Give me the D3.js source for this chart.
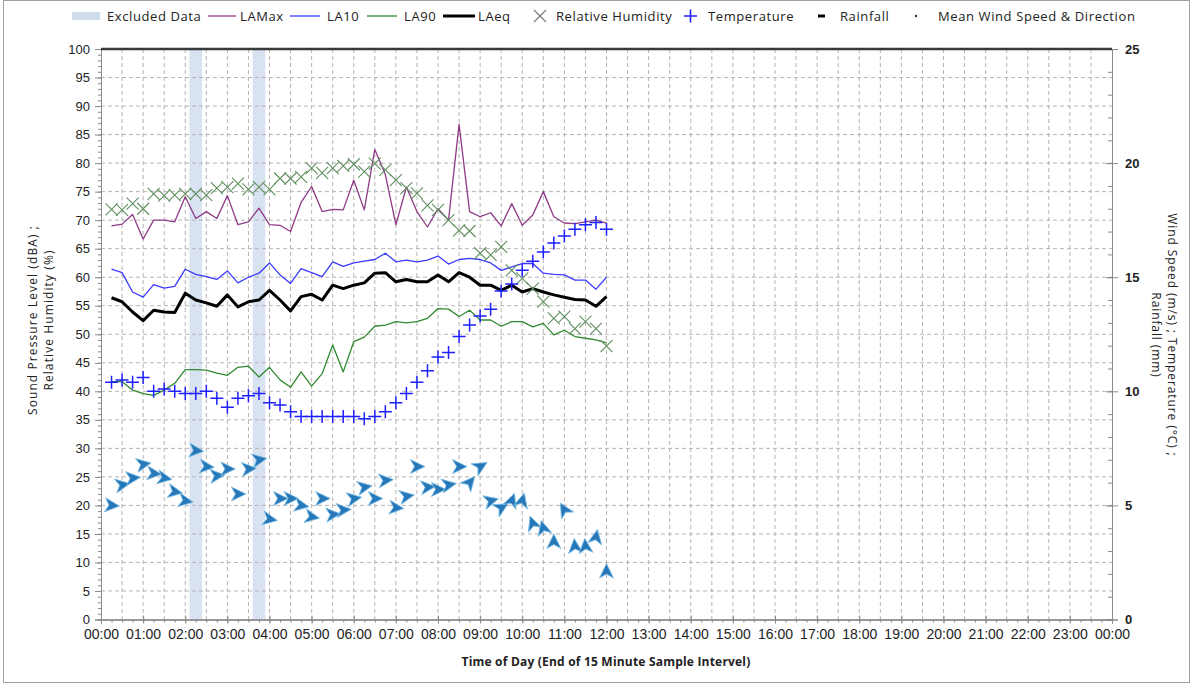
<!DOCTYPE html>
<html>
<head>
<meta charset="utf-8">
<script src="https://cdn.jsdelivr.net/npm/d3@7"></script>
<style>
  body { margin: 0; background: #fff; }
  svg { display: block; font-family: "Liberation Sans", Arial, sans-serif; }
  .lg { font-family: "Open Sans", sans-serif; font-size: 13px; letter-spacing: 0.6px; fill: #222; }
</style>
</head>
<body>
<svg id="chart" width="1192" height="686"></svg>
<script>
'use strict'

// sample end times (15 min intervals)
var times = ["00:15","00:30","00:45","01:00","01:15","01:30","01:45","02:00","02:15","02:30","02:45","03:00",
    "03:15","03:30","03:45","04:00","04:15","04:30","04:45","05:00","05:15","05:30","05:45","06:00",
    "06:15","06:30","06:45","07:00","07:15","07:30","07:45","08:00","08:15","08:30","08:45","09:00",
    "09:15","09:30","09:45","10:00","10:15","10:30","10:45","11:00","11:15","11:30","11:45","12:00"];

var laMax = [69.0,69.3,71.0,66.7,70.0,70.0,69.7,74.1,70.3,71.5,70.3,74.3,69.2,69.7,72.1,69.2,69.1,68.0,73.1,75.9,
    71.5,71.9,71.8,77.0,71.8,82.4,78.0,69.2,75.8,71.5,68.8,72.0,70.0,86.8,71.5,70.6,71.3,69.0,72.9,69.1,
    70.9,75.0,70.6,69.5,69.4,69.7,70.0,69.5];
var la10 = [61.4,60.8,57.4,56.5,58.7,58.1,58.4,61.4,60.5,60.1,59.6,61.1,59.0,60.0,60.7,62.5,60.4,58.9,61.5,60.8,
    60.1,62.7,61.9,62.5,62.8,63.1,64.2,62.7,63.0,62.7,63.0,63.7,62.3,63.1,63.3,63.1,62.5,61.2,61.8,62.4,
    62.4,60.7,60.5,60.4,59.5,59.5,57.9,60.0];
var la90 = [41.7,41.7,40.2,39.6,39.3,40.2,41.4,43.8,43.8,43.7,43.2,42.8,44.2,44.4,42.5,44.2,42.0,40.7,43.4,40.9,
    43.1,48.1,43.4,48.7,49.5,51.4,51.6,52.2,52.0,52.2,52.8,54.5,54.4,53.1,54.2,52.5,52.5,51.4,52.2,52.2,
    51.3,51.9,49.9,50.7,49.6,49.3,49.0,48.5];
var laEq = [56.4,55.7,53.9,52.4,54.2,53.9,53.8,57.2,56.0,55.5,54.9,56.9,54.8,55.7,56.0,57.7,56.0,54.1,56.6,57.0,
    56.0,58.6,58.0,58.6,59.0,60.7,60.8,59.2,59.6,59.2,59.2,60.4,59.2,60.8,60.0,58.6,58.6,57.7,58.6,57.4,
    58.0,57.4,56.9,56.5,56.1,56.0,54.9,56.6];
var humidity = [71.9,71.8,72.9,72.0,74.6,74.3,74.4,74.6,74.6,74.4,75.6,75.8,76.4,75.4,75.8,75.4,77.3,77.3,77.6,79.1,
    78.3,79.1,79.5,79.8,78.5,79.9,78.8,77.0,75.6,74.7,72.6,71.8,70.0,68.2,68.1,64.2,63.9,65.3,61.2,59.8,
    58.0,55.7,52.8,53.1,51.0,52.2,51.0,47.9];
var temperature = [10.4,10.5,10.4,10.6,10.0,10.1,10.0,9.9,9.9,10.0,9.7,9.3,9.7,9.8,9.9,9.5,9.4,9.1,8.9,8.9,
    8.9,8.9,8.9,8.9,8.8,8.9,9.1,9.5,9.9,10.4,10.9,11.5,11.7,12.4,12.9,13.3,13.6,14.4,14.7,15.3,
    15.7,16.1,16.5,16.8,17.1,17.3,17.4,17.1];
var windSpeed = [5.0,5.9,6.2,6.8,6.4,6.2,5.6,5.2,7.4,6.7,6.3,6.6,5.5,6.6,7.0,4.4,5.3,5.3,5.0,4.5,
    5.3,4.6,4.8,5.3,5.8,5.3,6.1,4.9,5.4,6.7,5.8,5.7,5.9,6.7,6.0,6.7,5.2,4.9,5.2,5.2,
    4.2,4.0,3.4,4.8,3.2,3.2,3.6,2.1];
// bearing the arrow points to (deg, 0 = up)
var windDir = [95,80,85,80,95,100,100,100,95,95,85,90,90,85,80,100,90,90,100,100,
    90,85,85,80,80,90,85,95,80,90,85,90,80,90,40,60,75,60,20,15,
    340,345,0,330,355,355,10,0];
var excluded = ["02:15","03:45"];

var ticksX = d3.range(0, 25);
var ticksL = d3.range(0, 101, 5);
var ticksR = d3.range(0, 26, 5);

var legendItems = ["Excluded Data","LAMax","LA10","LA90","LAeq","Relative Humidity","Temperature","Rainfall","Mean Wind Speed & Direction"];

function hrs(t) { var p = t.split(":"); return +p[0] + p[1] / 60; }

var svg = d3.select("#chart");
var pLeft = 101, pRight = 1112, pTop = 49, pBottom = 619.5;

var x = d3.scaleLinear().domain([0, 24]).range([pLeft, pRight]);
var yL = d3.scaleLinear().domain([0, 100]).range([pBottom, pTop]);
var yR = d3.scaleLinear().domain([0, 25]).range([pBottom, pTop]);

// outer frame
svg.append("rect").attr("x", 3.5).attr("y", 0.5).attr("width", 1186).attr("height", 682)
    .attr("fill", "none").attr("stroke", "#a0a0a0");

// excluded data bands
svg.append("g").selectAll("rect").data(excluded).enter().append("rect")
    .attr("x", d => x(hrs(d) - 0.15)).attr("width", x(0.3) - x(0))
    .attr("y", pTop).attr("height", pBottom - pTop)
    .attr("fill", "#c9d6ea").attr("opacity", 0.7);

// grid
var grid = svg.append("g").attr("stroke", "#b4b4b4").attr("stroke-dasharray", "4,3");
grid.selectAll("line.h").data(d3.range(5, 100, 5)).enter().append("line")
    .attr("x1", pLeft).attr("x2", pRight).attr("y1", d => yL(d)).attr("y2", d => yL(d));
grid.selectAll("line.v").data(d3.range(0.5, 24, 0.5)).enter().append("line")
    .attr("y1", pTop).attr("y2", pBottom).attr("x1", d => x(d)).attr("x2", d => x(d));

// axes
function styleAxis(g) {
    g.selectAll("path").attr("stroke", "#8a8a8a");
    g.selectAll("line").attr("stroke", "#8a8a8a");
    g.selectAll("text").attr("fill", "#222").style("font-size", "13px");
}
svg.append("g").attr("transform", `translate(0,${pBottom})`)
    .call(d3.axisBottom(x).tickValues(d3.range(0, 24.01, 0.25)).tickSize(3).tickFormat(""))
    .call(styleAxis);
svg.append("g").attr("transform", `translate(0,${pBottom})`)
    .call(d3.axisBottom(x).tickValues(ticksX).tickSizeInner(-4).tickSizeOuter(0).tickPadding(10)
        .tickFormat(h => String(h % 24).padStart(2, "0") + ":00"))
    .call(styleAxis)
    .call(g => g.selectAll("text").style("font-size", "14px"));
svg.append("g").attr("transform", `translate(0,${pBottom})`)
    .call(d3.axisBottom(x).tickValues(ticksX).tickSize(4).tickFormat(""))
    .call(styleAxis);

svg.append("g").attr("transform", `translate(${pLeft},0)`)
    .call(d3.axisLeft(yL).tickValues(d3.range(0, 101, 1)).tickSize(3).tickFormat(""))
    .call(styleAxis);
svg.append("g").attr("transform", `translate(${pLeft},0)`)
    .call(d3.axisLeft(yL).tickValues(ticksL).tickSize(6).tickPadding(5))
    .call(styleAxis);

svg.append("g").attr("transform", `translate(${pRight},0)`)
    .call(d3.axisLeft(yR).tickValues(d3.range(0, 25.1, 1)).tickSize(4).tickFormat(""))
    .call(styleAxis);
svg.append("g").attr("transform", `translate(${pRight},0)`)
    .call(d3.axisRight(yR).tickValues(ticksR).tickSize(6).tickPadding(7))
    .call(styleAxis)
    .call(g => g.selectAll("text").attr("font-weight", "bold").style("font-size", "13px"));
svg.append("g").attr("transform", `translate(${pRight},0)`)
    .call(d3.axisLeft(yR).tickValues(ticksR).tickSize(6).tickFormat(""))
    .call(styleAxis);

// top border
svg.append("line").attr("x1", pLeft).attr("x2", pRight).attr("y1", pTop).attr("y2", pTop)
    .attr("stroke", "#3a3a3a").attr("stroke-width", 2.5);

// lines
var pts = times.map(hrs);
function drawLine(vals, color, w) {
    var line = d3.line().x((d, i) => x(pts[i])).y(d => yL(d));
    svg.append("path").datum(vals).attr("d", line)
        .attr("fill", "none").attr("stroke", color).attr("stroke-width", w)
        .attr("stroke-linejoin", "round");
}
drawLine(laMax, "#8e3a86", 1.3);
drawLine(la10, "#3a3aff", 1.3);
drawLine(la90, "#2f8a2f", 1.3);
drawLine(laEq, "#000", 3);

// humidity markers (x)
svg.append("g").attr("stroke", "#5f8f5f").attr("stroke-width", 1.1)
    .selectAll("path").data(humidity).enter().append("path")
    .attr("d", (d, i) => {
        var cx = x(pts[i]), cy = yL(d), s = 6;
        return `M${cx - s},${cy - s}L${cx + s},${cy + s}M${cx - s},${cy + s}L${cx + s},${cy - s}`;
    });

// temperature markers (+)
svg.append("g").attr("stroke", "#1f1fff").attr("stroke-width", 1.5)
    .selectAll("path").data(temperature).enter().append("path")
    .attr("d", (d, i) => {
        var cx = x(pts[i]), cy = yR(d), s = 6.5;
        return `M${cx - s},${cy}L${cx + s},${cy}M${cx},${cy - s}L${cx},${cy + s}`;
    });

// wind arrows
var arrow = "M0,-8L7,6.5L0,2.5L-7,6.5Z";
svg.append("g").selectAll("path").data(windSpeed).enter().append("path")
    .attr("d", arrow)
    .attr("transform", (d, i) => `translate(${x(pts[i])},${yR(d)}) rotate(${windDir[i]})`)
    .attr("fill", "#2778b8").attr("stroke", "#7dbde6").attr("stroke-width", 0.8);

// axis titles
svg.append("text").attr("transform", "translate(37,320) rotate(-90)")
    .attr("text-anchor", "middle").attr("class", "lg").style("font-size", "12px")
    .style("letter-spacing", "1.1px").text("Sound Pressure Level (dBA) ;");
svg.append("text").attr("transform", "translate(53,320) rotate(-90)")
    .attr("text-anchor", "middle").attr("class", "lg").style("font-size", "12px")
    .style("letter-spacing", "1.1px").text("Relative Humidity (%)");
svg.append("text").attr("transform", "translate(1168,335) rotate(90)")
    .attr("text-anchor", "middle").attr("class", "lg").style("font-size", "12px")
    .style("letter-spacing", "0.9px").text("Wind Speed (m/s) ; Temperature (°C) ;");
svg.append("text").attr("transform", "translate(1152,335) rotate(90)")
    .attr("text-anchor", "middle").attr("class", "lg").style("font-size", "12px")
    .style("letter-spacing", "0.9px").text("Rainfall (mm)");
svg.append("text").attr("x", 606).attr("y", 666).attr("text-anchor", "middle")
    .attr("class", "lg").style("font-size", "12px").style("letter-spacing", "0.2px").attr("font-weight", "bold")
    .text("Time of Day (End of 15 Minute Sample Intervel)");

// legend
var lg = svg.append("g");
var lgY = 16;
var lgX = [107, 240, 327, 404, 478, 556, 708, 840, 938];
lg.selectAll("text").data(legendItems).enter().append("text")
    .attr("class", "lg").attr("x", (d, i) => lgX[i]).attr("y", lgY + 4.5).text(d => d);
lg.append("rect").attr("x", 72).attr("y", lgY - 4).attr("width", 28).attr("height", 8).attr("fill", "#d0dcec");
lg.append("line").attr("x1", 208).attr("x2", 236).attr("y1", lgY).attr("y2", lgY).attr("stroke", "#8e3a86").attr("stroke-width", 1.3);
lg.append("line").attr("x1", 290).attr("x2", 320).attr("y1", lgY).attr("y2", lgY).attr("stroke", "#3a3aff").attr("stroke-width", 1.3);
lg.append("line").attr("x1", 367).attr("x2", 397).attr("y1", lgY).attr("y2", lgY).attr("stroke", "#2f8a2f").attr("stroke-width", 1.3);
lg.append("line").attr("x1", 443).attr("x2", 475).attr("y1", lgY).attr("y2", lgY).attr("stroke", "#000").attr("stroke-width", 3);
lg.append("path").attr("d", `M534,${lgY - 6}L546,${lgY + 6}M534,${lgY + 6}L546,${lgY - 6}`).attr("stroke", "#777").attr("stroke-width", 1.1);
lg.append("path").attr("d", `M684,${lgY}L697,${lgY}M690.5,${lgY - 6.5}L690.5,${lgY + 6.5}`).attr("stroke", "#1f1fff").attr("stroke-width", 1.6);
lg.append("rect").attr("x", 818).attr("y", lgY - 1.5).attr("width", 7).attr("height", 3).attr("fill", "#000");
lg.append("circle").attr("cx", 916).attr("cy", lgY).attr("r", 1.2).attr("fill", "#333");
</script>
</body>
</html>
